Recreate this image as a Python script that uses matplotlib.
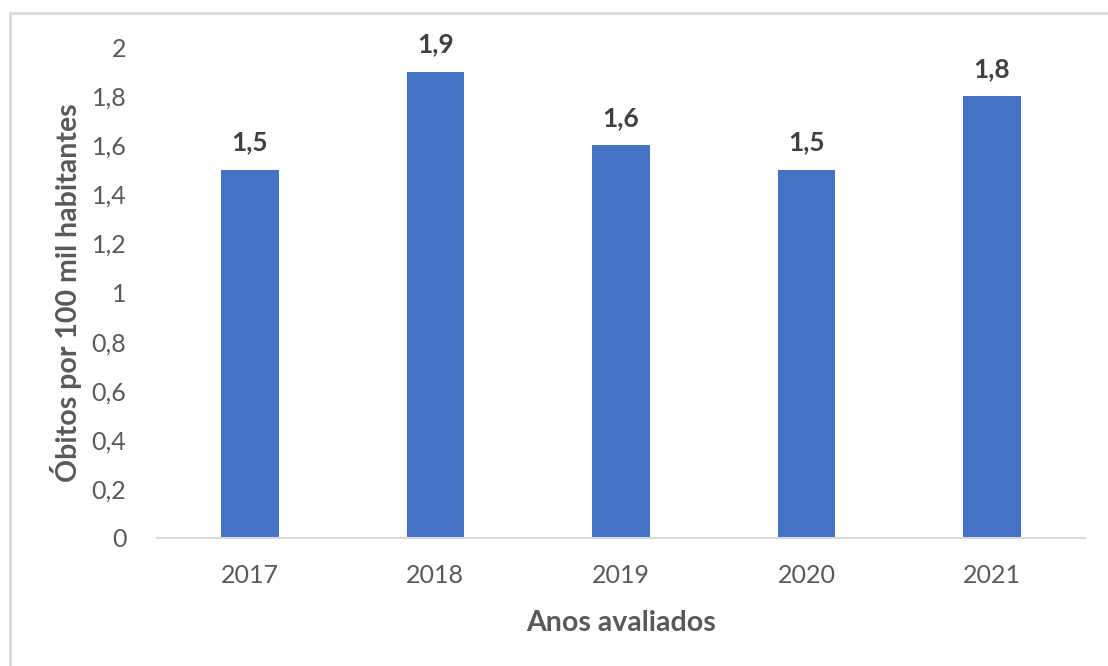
import matplotlib.pyplot as plt
from matplotlib.patches import Rectangle
from matplotlib.ticker import FuncFormatter

plt.rcParams['font.family'] = ['Lato', 'DejaVu Sans']

anos = ['2017', '2018', '2019', '2020', '2021']
obitos = [1.5, 1.9, 1.6, 1.5, 1.8]

fig = plt.figure(figsize=(11.08, 6.66), dpi=100)
ax = fig.add_axes([0.1417, 0.1922, 0.8373, 0.7372])

# moldura cinza do grafico (so topo e esquerda aparecem no recorte)
fig.patches.append(Rectangle((10 / 1108, -0.1), 1.2, 1 - 13 / 666 + 0.1,
                             transform=fig.transFigure, fill=False,
                             edgecolor='#d9d9d9', linewidth=2))

x = range(len(anos))
bars = ax.bar(x, obitos, width=0.31, color='#4472C4')

for b, v in zip(bars, obitos):
    ax.annotate(f'{v:.1f}'.replace('.', ','),
                (b.get_x() + b.get_width() / 2, v),
                xytext=(0, 11), textcoords='offset points',
                ha='center', va='bottom', fontsize=19, fontweight='bold',
                color='#404040')

ax.set_xlim(-0.5, len(anos) - 0.5)
ax.set_ylim(0, 2)
ax.set_yticks([i / 10 for i in range(0, 21, 2)])
ax.yaxis.set_major_formatter(FuncFormatter(
    lambda v, p: ('%g' % round(v, 1)).replace('.', ',')))
ax.set_xticks(list(x))
ax.set_xticklabels(anos)
ax.tick_params(axis='both', length=0, labelsize=18, colors='#595959')
ax.tick_params(axis='x', pad=19)
ax.tick_params(axis='y', pad=22)

for s in ['top', 'right', 'left']:
    ax.spines[s].set_visible(False)
ax.spines['bottom'].set_color('#d9d9d9')
ax.spines['bottom'].set_linewidth(1.5)

ax.set_xlabel('Anos avaliados', fontsize=20.5, fontweight='bold',
              color='#595959', labelpad=16)
ax.set_ylabel('Óbitos por 100 mil habitantes', fontsize=20.5,
              fontweight='bold', color='#595959', labelpad=7)

fig.savefig('out.png', dpi=100, facecolor='white')
